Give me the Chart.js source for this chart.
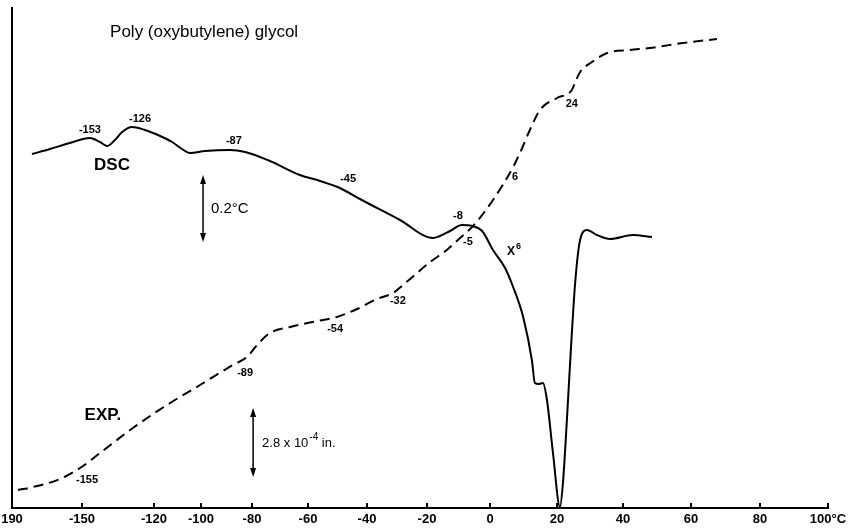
<!DOCTYPE html>
<html>
<head>
<meta charset="utf-8">
<script src="https://cdn.jsdelivr.net/npm/chart.js@4.4.1/dist/chart.umd.min.js"></script>
<style>
    html, body { margin: 0; padding: 0; background: #fff; }
    #wrap { width: 859px; height: 531px; }
</style>
</head>
<body>
<div id="wrap"><canvas id="chart"></canvas></div>
<script>
// Eixo de temperatura (°C) e rótulos como impressos
const tickTemps = [-190, -150, -120, -100, -80, -60, -40, -20, 0, 20, 40, 60, 80, 100];
const tickLabels = ['190', '-150', '-120', '-100', '-80', '-60', '-40', '-20', '0', '20', '40', '60', '80', '100°C'];

// Curva DSC (linha contínua) - sinal em unidades arbitrárias
const dscTemp = [-178.6, -168.3, -156.9, -146.7, -142.5, -139.6, -136.3, -133.3, -129.2, -123.8, -117.4, -112.3,
    -108.1, -104.7, -98.4, -88.6, -82.7, -73.6, -62.9, -55.9, -49.2, -42.4, -29.0, -18.1, -15.9, -12.7, -8.9,
    -5.7, -2.5, 0.9, 4.5, 6.9, 9.9, 12.5, 13.4, 14.6, 15.8, 17.0, 18.8, 20.9, 21.8, 23.0, 23.9, 25.5, 27.0,
    29.1, 32.1, 36.1, 42.9, 48.5];
const dscSignal = [70.8, 71.8, 73.0, 74.0, 73.2, 72.4, 73.6, 75.2, 76.2, 75.6, 74.4, 73.2,
    71.8, 71.0, 71.4, 71.6, 71.2, 69.4, 66.6, 65.4, 64.0, 61.8, 57.6, 54.0, 54.4, 55.4, 56.6,
    56.4, 55.4, 51.6, 48.0, 44.2, 38.2, 29.6, 25.0, 24.8, 25.0, 21.6, 11.0, 0.2, 5.0, 17.6, 28.2, 45.0, 53.6,
    55.6, 54.6, 53.8, 54.6, 54.2];

// Curva de expansão (tracejada)
const expTemp = [-186.6, -178.0, -162.6, -151.1, -142.5, -128.8, -114.5, -100.4, -87.5, -82.0, -78.2, -73.6,
    -66.4, -56.9, -50.2, -43.4, -36.7, -31.3, -28.0, -23.3, -19.0, -13.7, -9.5, -5.4, 0.9, 6.9, 9.6, 11.9,
    14.9, 20.0, 24.5, 25.8, 27.0, 30.6, 35.2, 42.1, 47.9, 57.6, 67.5];
const expSignal = [3.6, 4.2, 5.8, 8.0, 11.0, 16.0, 20.6, 24.6, 28.6, 30.2, 32.6, 35.0,
    36.2, 37.4, 38.2, 39.8, 41.8, 43.0, 44.6, 47.0, 49.2, 51.6, 54.0, 56.4, 61.6, 68.2, 72.0, 75.6,
    79.6, 82.0, 83.6, 85.6, 87.2, 89.2, 91.0, 91.6, 92.0, 93.0, 93.8];

// Escala de temperatura do registrador (espaçamento não linear entre as marcas)
class RecorderScale extends Chart.LinearScale {
    buildTicks() {
        return this.options.calib.temps.map(v => ({ value: v }));
    }
    _frac(value) {
        const t = this.options.calib.temps;
        const s = this.options.calib.spacing;
        let i = 0;
        while (i < t.length - 2 && value > t[i + 1]) i++;
        const f = s[i] + (value - t[i]) / (t[i + 1] - t[i]) * (s[i + 1] - s[i]);
        return f / s[s.length - 1];
    }
    getPixelForValue(value) {
        return this.left + this.width * this._frac(value);
    }
    getValueForPixel(pixel) {
        const t = this.options.calib.temps;
        const s = this.options.calib.spacing;
        const f = (pixel - this.left) / this.width * s[s.length - 1];
        let i = 0;
        while (i < s.length - 2 && f > s[i + 1]) i++;
        return t[i] + (f - s[i]) / (s[i + 1] - s[i]) * (t[i + 1] - t[i]);
    }
}
RecorderScale.id = 'recorder';
RecorderScale.defaults = Chart.LinearScale.defaults;
Chart.register(RecorderScale);

const FONT = "'Liberation Sans', Arial, sans-serif";

// Anotações do gráfico (posições em °C / unidades do sinal)
const notes = [
    { text: 'Poly (oxybutylene) glycol', x: -138.3, y: 95.2, size: 17, align: 'left' },
    { text: 'DSC', x: -137.5, y: 68.6, size: 17, bold: true },
    { text: 'EXP.', x: -141.3, y: 18.6, size: 17, bold: true },
    { text: '-153', x: -146.7, y: 75.6, size: 11, bold: true },
    { text: '-126', x: -125.8, y: 77.8, size: 11, bold: true },
    { text: '-87', x: -87.1, y: 73.4, size: 11, bold: true },
    { text: '-45', x: -46.4, y: 65.8, size: 11, bold: true },
    { text: '-8', x: -10.2, y: 58.4, size: 11, bold: true },
    { text: '-5', x: -7.0, y: 53.2, size: 11, bold: true },
    { text: '6', x: 7.5, y: 66.2, size: 11, bold: true },
    { text: '24', x: 24.5, y: 80.8, size: 11, bold: true },
    { text: '-155', x: -147.9, y: 5.6, size: 11, bold: true },
    { text: '-89', x: -82.7, y: 27.0, size: 11, bold: true },
    { text: '-54', x: -50.8, y: 35.8, size: 11, bold: true },
    { text: '-32', x: -29.7, y: 41.4, size: 11, bold: true },
    { text: 'X', sup: '6', x: 6.3, y: 51.2, size: 12, bold: true },
    { text: '0.2°C', x: -96.1, y: 59.8, size: 15, align: 'left' },
    { text: '2.8 x 10', sup: '-4', after: ' in.', x: -76.4, y: 13.0, size: 13, align: 'left' }
];
const arrows = [
    { x: -99.2, y1: 66.6, y2: 53.2 },
    { x: -79.6, y1: 20.0, y2: 6.2 }
];

const notesPlugin = {
    id: 'notes',
    afterDatasetsDraw(chart) {
        const { ctx, scales: { x, y } } = chart;
        ctx.save();
        ctx.fillStyle = '#000';
        ctx.strokeStyle = '#000';
        ctx.textBaseline = 'middle';
        notes.forEach(n => {
            const px = x.getPixelForValue(n.x);
            const py = y.getPixelForValue(n.y);
            ctx.font = `${n.bold ? 'bold ' : ''}${n.size}px ${FONT}`;
            ctx.textAlign = n.align || 'center';
            ctx.fillText(n.text, px, py);
            if (n.sup) {
                let w = ctx.measureText(n.text).width;
                let sx = n.align === 'left' ? px + w : px + w / 2;
                ctx.textAlign = 'left';
                ctx.font = `${n.bold ? 'bold ' : ''}${Math.round(n.size * 0.75)}px ${FONT}`;
                ctx.fillText(n.sup, sx + 1, py - n.size * 0.45);
                if (n.after) {
                    const sw = ctx.measureText(n.sup).width;
                    ctx.font = `${n.size}px ${FONT}`;
                    ctx.fillText(n.after, sx + 1 + sw, py);
                }
            }
        });
        // setas de escala
        ctx.lineWidth = 1.5;
        arrows.forEach(a => {
            const px = x.getPixelForValue(a.x);
            const top = y.getPixelForValue(a.y1);
            const bot = y.getPixelForValue(a.y2);
            ctx.beginPath();
            ctx.moveTo(px, top + 3);
            ctx.lineTo(px, bot - 3);
            ctx.stroke();
            [[top, 1], [bot, -1]].forEach(([tip, dir]) => {
                ctx.beginPath();
                ctx.moveTo(px, tip);
                ctx.lineTo(px - 3, tip + dir * 9);
                ctx.lineTo(px + 3, tip + dir * 9);
                ctx.closePath();
                ctx.fill();
            });
        });
        ctx.restore();
    }
};

const toPoints = (xs, ys) => xs.map((t, i) => ({ x: t, y: ys[i] }));

new Chart(document.getElementById('chart'), {
    type: 'line',
    data: {
        datasets: [{
            label: 'DSC',
            data: toPoints(dscTemp, dscSignal),
            borderColor: '#000',
            borderWidth: 2,
            pointRadius: 0,
            cubicInterpolationMode: 'monotone',
            fill: false
        }, {
            label: 'EXP.',
            data: toPoints(expTemp, expSignal),
            borderColor: '#000',
            borderWidth: 2,
            borderDash: [10, 6],
            pointRadius: 0,
            cubicInterpolationMode: 'monotone',
            fill: false
        }]
    },
    options: {
        responsive: true,
        maintainAspectRatio: false,
        animation: false,
        layout: { padding: { left: 12, right: 31, top: 8, bottom: 0 } },
        plugins: {
            legend: { display: false },
            tooltip: { enabled: false }
        },
        scales: {
            x: {
                type: 'recorder',
                min: -190,
                max: 100,
                calib: {
                    temps: tickTemps,
                    spacing: [0, 70, 142, 189, 240, 296, 355, 415, 478, 545, 611, 679, 748, 816]
                },
                grid: {
                    drawOnChartArea: false,
                    drawTicks: true,
                    tickLength: -5,
                    color: '#000',
                    lineWidth: 2
                },
                border: { display: true, color: '#000', width: 2 },
                ticks: {
                    autoSkip: false,
                    maxRotation: 0,
                    padding: 9,
                    color: '#000',
                    font: { family: FONT, size: 13, weight: 'bold' },
                    callback: (v, i) => tickLabels[i]
                },
                afterFit: s => { s.height = 23; s.paddingLeft = 0; s.paddingRight = 0; }
            },
            y: {
                type: 'linear',
                min: 0,
                max: 100,
                grid: { display: false },
                ticks: { display: false },
                border: { display: true, color: '#000', width: 2 },
                afterFit: s => { s.width = 0; }
            }
        }
    },
    plugins: [notesPlugin]
});
</script>
</body>
</html>
